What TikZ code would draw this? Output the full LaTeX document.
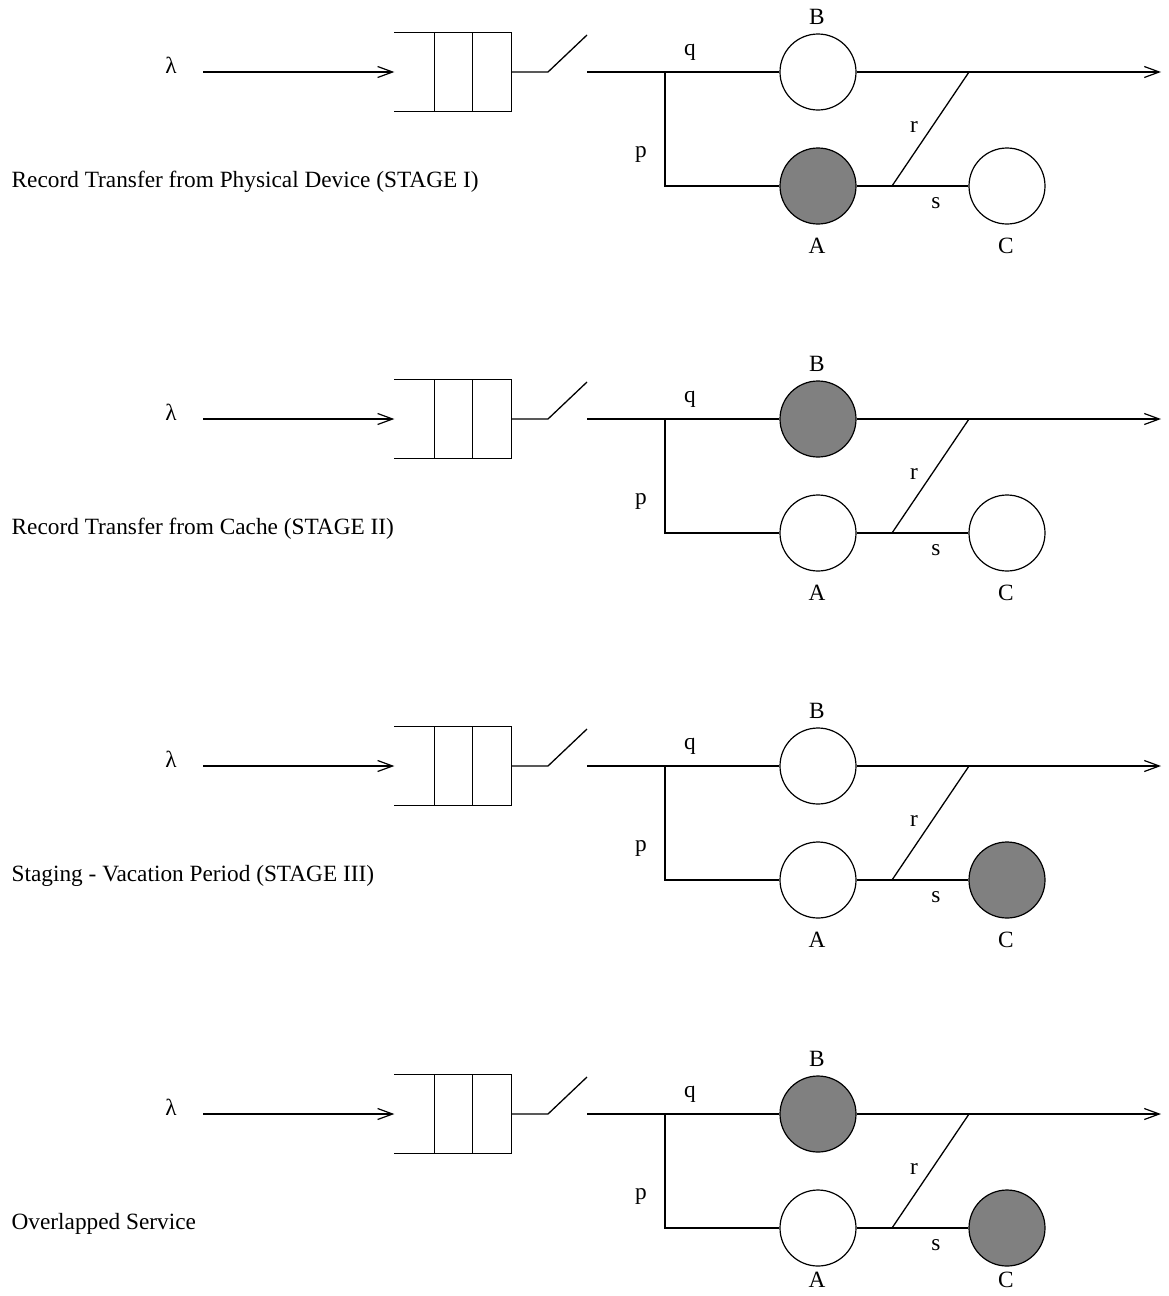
\documentclass[tikz,border=0pt]{standalone}
\usepackage{fontspec}
\setmainfont{Liberation Serif}
\usetikzlibrary{arrows.meta}
\begin{document}
\begin{tikzpicture}[x=1pt, y=-1pt, line width=1.3pt,
  server/.style={circle, draw, line width=1.2pt, minimum size=76pt, inner sep=0pt},
  busy/.style={fill=black!50},
  idle/.style={fill=white},
  buffer/.style={minimum width=116pt, minimum height=78pt, inner sep=0pt},
  flow/.style={-{Straight Barb[length=15pt, width=11pt, line width=1.2pt]}},
  lbl/.style={font=\fontsize{23.3}{27}\selectfont, inner sep=0pt},
]
\useasboundingbox (0,0) rectangle (1168,1296);
\foreach \i/\Y/\sa/\sb/\sc/\la/\caption in {
  1/72/busy/idle/idle/181/{Record Transfer from Physical Device (STAGE I)},
  2/419/idle/busy/idle/181/{Record Transfer from Cache (STAGE II)},
  3/766/idle/idle/busy/181/{Staging - Vacation Period (STAGE III)},
  4/1114/idle/busy/busy/173/{Overlapped Service}}{
  \begin{scope}[shift={(0,\Y)}]
    % arrival stream
    \node[lbl, anchor=base] (lam\i) at (171,1) {λ};
    \coordinate (src\i) at (203,0);
    % waiting buffer with two slots
    \node[buffer] (queue\i) at (453,0) {};
    \draw[flow] (src\i) -- (queue\i.west);
    \draw (queue\i.north west) -- (queue\i.north east) -- (queue\i.south east) -- (queue\i.south west);
    \draw ([xshift=40pt]queue\i.north west) -- ([xshift=40pt]queue\i.south west);
    \draw ([xshift=78pt]queue\i.north west) -- ([xshift=78pt]queue\i.south west);
    % open switch
    \coordinate (sw\i) at (548,0);
    \coordinate (swtip\i) at (587,-37);
    \draw (queue\i.east) -- (sw\i) -- (swtip\i);
    \coordinate (swout\i) at (587,0);
    \coordinate (fork\i) at (665,0);
    % servers
    \node[server, \sb] (B\i) at (818,0) {};
    \node[server, \sa] (A\i) at (818,114) {};
    \node[server, \sc] (C\i) at (1007,114) {};
    \coordinate (join\i) at (892,114);
    \coordinate (merge\i) at (969,0);
    \coordinate (sink\i) at (1161,0);
    \draw (swout\i) -- (B\i.west);
    \draw (fork\i) |- (A\i.west);
    \draw[flow] (B\i.east) -- (sink\i);
    \draw (A\i.east) -- (C\i.west);
    \draw (join\i) -- (merge\i);
    % labels
    \node[lbl, anchor=base] (q\i) at (690,-17) {q};
    \node[lbl, anchor=base] (p\i) at (641,85.5) {p};
    \node[lbl, anchor=base] (r\i) at (914,60) {r};
    \node[lbl, anchor=base] (s\i) at (936,136) {s};
    \node[lbl, anchor=base] (lB\i) at (817,-47.5) {B};
    \node[lbl, anchor=base] (lA\i) at (817,\la) {A};
    \node[lbl, anchor=base] (lC\i) at (1006,\la) {C};
    \node[lbl, anchor=base west] (cap\i) at (11,115) {\caption};
  \end{scope}
}
\end{tikzpicture}
\end{document}
